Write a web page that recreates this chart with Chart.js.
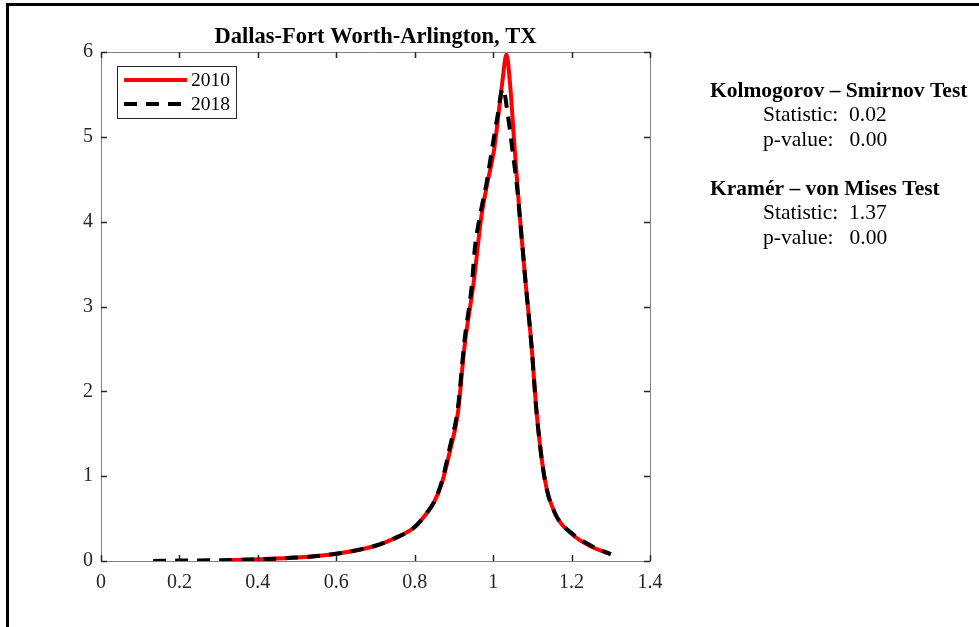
<!DOCTYPE html>
<html>
<head>
<meta charset="utf-8">
<script src="https://cdn.jsdelivr.net/npm/chart.js@4"></script>
<style>
  html, body { margin: 0; padding: 0; background: #fff; }
  #wrap { width: 979px; height: 627px; position: relative; }
</style>
</head>
<body>
<div id="wrap"><canvas id="kde"></canvas></div>
<script>
// density estimates (x = relative value, y = density)
var x2010 = [0.32, 0.4, 0.5, 0.6, 0.7, 0.75, 0.8, 0.83, 0.85, 0.87, 0.89, 0.91, 0.927, 0.95, 0.97, 0.985, 1.0025, 1.023, 1.034, 1.043, 1.055, 1.068, 1.083, 1.098, 1.111, 1.132, 1.158, 1.2, 1.25, 1.3];
var y2010 = [0.01, 0.02, 0.04, 0.085, 0.18, 0.27, 0.4, 0.56, 0.7, 0.93, 1.3, 1.74, 2.53, 3.27, 4.06, 4.45, 4.85, 5.63, 5.97, 5.63, 4.85, 4.06, 3.27, 2.53, 1.74, 0.955, 0.56, 0.32, 0.17, 0.08];

var x2018 = [0.133, 0.2, 0.3, 0.4, 0.5, 0.6, 0.7, 0.75, 0.8, 0.83, 0.85, 0.87, 0.89, 0.91, 0.927, 0.946, 0.953, 0.966, 0.983, 0.997, 1.011, 1.025, 1.038, 1.049, 1.06, 1.068, 1.083, 1.098, 1.111, 1.132, 1.158, 1.2, 1.25, 1.3];
var y2018 = [0.0, 0.005, 0.01, 0.02, 0.04, 0.085, 0.18, 0.27, 0.4, 0.56, 0.7, 0.95, 1.35, 1.8, 2.6, 3.27, 3.67, 4.06, 4.45, 4.85, 5.24, 5.57, 5.24, 4.85, 4.45, 4.06, 3.27, 2.53, 1.74, 0.955, 0.56, 0.33, 0.18, 0.08];

var xTicks = [0, 0.2, 0.4, 0.6, 0.8, 1, 1.2, 1.4];
var yTicks = [0, 1, 2, 3, 4, 5, 6];

var chartTitle = 'Dallas-Fort Worth-Arlington, TX';
var seriesNames = ['2010', '2018'];
var statLines = [
    ['Kolmogorov \u2013 Smirnov Test', true],
    ['Statistic:  0.02', false],
    ['p-value:   0.00', false],
    ['', false],
    ['Kram\u00e9r \u2013 von Mises Test', true],
    ['Statistic:  1.37', false],
    ['p-value:   0.00', false]
];

var serif = '"Liberation Serif", "Times New Roman", serif';
var ink = '#262626';
var axisGray = '#808080';

function pts(xs, ys) {
    var out = [];
    for (var i = 0; i < xs.length; i++) out.push({ x: xs[i], y: ys[i] });
    return out;
}

// extra drawing: frame, box, inward ticks, title, legend, test statistics
var decor = {
    id: 'decor',
    afterDraw: function (c) {
        var ctx = c.ctx, a = c.chartArea;
        var sx = c.scales.x, sy = c.scales.y;
        ctx.save();

        // page frame
        ctx.strokeStyle = '#000';
        ctx.lineWidth = 3;
        ctx.beginPath();
        ctx.moveTo(979, 4.5);
        ctx.lineTo(7.5, 4.5);
        ctx.lineTo(7.5, 627);
        ctx.stroke();

        // box + ticks
        ctx.strokeStyle = axisGray;
        ctx.lineWidth = 1;
        ctx.beginPath();
        ctx.moveTo(a.left, a.top + 0.5);
        ctx.lineTo(a.right + 0.5, a.top + 0.5);
        ctx.lineTo(a.right + 0.5, a.bottom);
        ctx.stroke();
        ctx.strokeStyle = ink;
        ctx.lineWidth = 1.5;
        ctx.beginPath();
        xTicks.forEach(function (v) {
            var p = Math.round(sx.getPixelForValue(v)) + 0.5;
            ctx.moveTo(p, a.bottom); ctx.lineTo(p, a.bottom - 6);
            ctx.moveTo(p, a.top); ctx.lineTo(p, a.top + 6);
        });
        yTicks.forEach(function (v) {
            var p = Math.round(sy.getPixelForValue(v)) + 0.5;
            ctx.moveTo(a.left, p); ctx.lineTo(a.left + 6, p);
            ctx.moveTo(a.right, p); ctx.lineTo(a.right - 6, p);
        });
        ctx.stroke();

        // title
        ctx.fillStyle = '#000';
        ctx.font = 'bold 22.5px ' + serif;
        ctx.textAlign = 'center';
        ctx.textBaseline = 'middle';
        ctx.fillText(chartTitle, (a.left + a.right) / 2, 37);

        // legend
        ctx.fillStyle = '#fff';
        ctx.fillRect(117, 66, 119, 52);
        ctx.strokeStyle = '#262626';
        ctx.lineWidth = 1;
        ctx.strokeRect(117.5, 66.5, 119, 52);
        var ds = c.data.datasets;
        [0, 1].forEach(function (k) {
            var d = ds.find(function (s) { return s.label === seriesNames[k]; });
            var yy = 80 + k * 24;
            ctx.strokeStyle = d.borderColor;
            ctx.lineWidth = d.borderWidth;
            ctx.setLineDash(d.borderDash || []);
            ctx.beginPath();
            ctx.moveTo(124, yy); ctx.lineTo(187, yy);
            ctx.stroke();
            ctx.setLineDash([]);
            ctx.fillStyle = '#000';
            ctx.font = '19.5px ' + serif;
            ctx.textAlign = 'left';
            ctx.fillText(seriesNames[k], 191, yy + 1);
        });

        // test statistics
        ctx.textAlign = 'left';
        statLines.forEach(function (ln, i) {
            ctx.font = (ln[1] ? 'bold ' : '') + '21.5px ' + serif;
            ctx.fillText(ln[0], ln[1] ? 710 : 763, 91 + i * 24.5);
        });
        ctx.restore();
    }
};

var myCanvas = document.getElementById('kde').getContext('2d');

var chart = {
    type: 'scatter',
    data: {
        datasets: [{
            label: seriesNames[1],
            data: pts(x2018, y2018),
            showLine: true,
            borderColor: '#000000',
            borderWidth: 4,
            borderDash: [13, 9],
            pointRadius: 0,
            cubicInterpolationMode: 'monotone',
            order: 0
        }, {
            label: seriesNames[0],
            data: pts(x2010, y2010),
            showLine: true,
            borderColor: '#ff0000',
            borderWidth: 4,
            pointRadius: 0,
            cubicInterpolationMode: 'monotone',
            order: 1
        }]
    },
    options: {
        responsive: true,
        maintainAspectRatio: false,
        animation: false,
        layout: { padding: { left: 0, top: 52, right: 329, bottom: 26 } },
        plugins: {
            legend: { display: false },
            title: { display: false },
            tooltip: { enabled: false }
        },
        scales: {
            x: {
                type: 'linear',
                min: 0,
                max: 1.4,
                afterFit: function (s) { s.height = 40; },
                afterBuildTicks: function (s) { s.ticks = xTicks.map(function (v) { return { value: v }; }); },
                grid: { display: false },
                border: { display: true, color: axisGray, width: 1 },
                ticks: {
                    padding: 2,
                    color: ink,
                    font: { family: serif, size: 20 },
                    maxRotation: 0,
                    callback: function (v) { return String(Math.round(v * 10) / 10); }
                }
            },
            y: {
                min: 0,
                max: 6,
                afterFit: function (s) { s.width = 101; },
                afterBuildTicks: function (s) { s.ticks = yTicks.map(function (v) { return { value: v }; }); },
                grid: { display: false },
                border: { display: true, color: axisGray, width: 1 },
                ticks: {
                    padding: 0,
                    color: ink,
                    font: { family: serif, size: 20 }
                }
            }
        }
    },
    plugins: [decor]
};
var statChart = new Chart(myCanvas, chart);
</script>
</body>
</html>
